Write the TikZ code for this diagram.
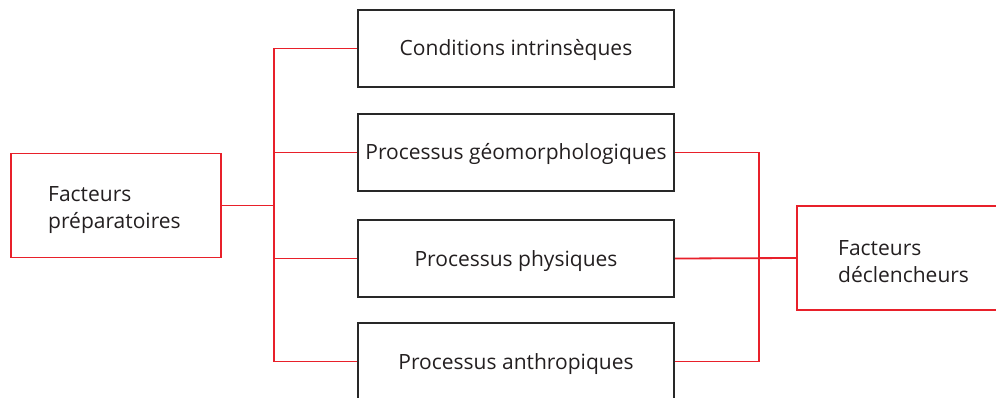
\documentclass[tikz,border=0pt]{standalone}
\usepackage{fontspec}
\setmainfont{Open Sans}
\definecolor{lred}{RGB}{232,32,42}
\definecolor{boxline}{RGB}{40,40,40}
\definecolor{txt}{RGB}{35,31,32}
\begin{document}
\begin{tikzpicture}[x=1pt,y=-1pt,
  mid/.style={draw=boxline,line width=2.2pt,minimum width=316pt,minimum height=77pt,inner sep=0pt,text height=15pt,text depth=0pt,text=txt,font=\fontsize{21}{27}\selectfont},
  side/.style={draw=lred,line width=1.8pt,minimum height=104pt,minimum width=210pt,inner sep=0pt},
  sidetext/.style={anchor=base west,align=left,text width=160pt,inner sep=0pt,text=txt,font=\fontsize{21}{27}\selectfont},
  link/.style={draw=lred,line width=1.8pt}]
\useasboundingbox (0,0) rectangle (996,398);
\clip (0,0) rectangle (996,398);
\node[mid] (B1) at (516,48.5) {Conditions intrinsèques};
\node[mid] (B2) at (516,152.5) {Processus géomorphologiques};
\node[mid] (B3) at (516,258.5) {Processus physiques};
\node[mid] (B4) at (516,361.5) {Processus anthropiques};
\node[side,anchor=west] (L) at (10,205.5) {};
\node[side,anchor=west,minimum width=230pt] (R) at (796,258) {};
\node[sidetext] (Lt) at ([xshift=38pt,yshift=3.5pt]L.west) {Facteurs\\préparatoires};
\node[sidetext] (Rt) at ([xshift=42pt,yshift=3pt]R.west) {Facteurs\\déclencheurs};
\coordinate (jl) at (274,0);
\coordinate (jr) at (759,0);
\draw[link] (L.east) -- (L.east -| jl);
\draw[link] (jl |- B1.west) -- (jl |- B4.west);
\foreach \b in {B1,B2,B3,B4} {\draw[link] (jl |- \b.west) -- (\b.west);}
\draw[link] (B2.east) -- (B2.east -| jr) -- (B4.east -| jr) -- (B4.east);
\draw[link] (B3.east) -- (R.west);
\end{tikzpicture}
\end{document}
